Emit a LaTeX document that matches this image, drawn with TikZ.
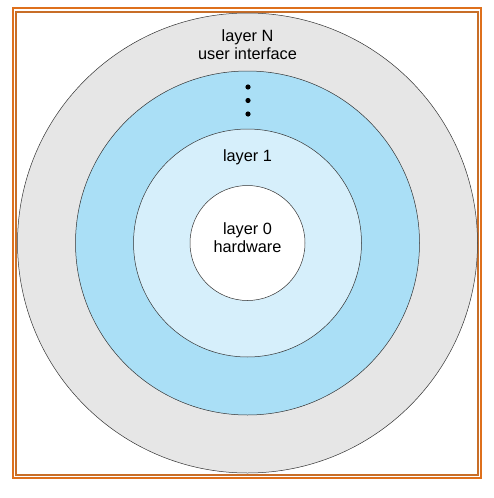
\documentclass[tikz,border=0pt]{standalone}
\usepackage{fontspec}
\setmainfont{Liberation Sans}
\definecolor{framec}{RGB}{222,112,28}
\definecolor{framed}{RGB}{200,110,40}
\definecolor{grayring}{RGB}{230,230,230}
\definecolor{bluering}{RGB}{170,223,246}
\definecolor{lightring}{RGB}{214,239,251}
\begin{document}
\begin{tikzpicture}[x=1pt,y=-1pt,
  ring/.style={circle,draw=black!80,line width=0.5pt,inner sep=0pt},
  lbl/.style={font=\fontsize{16.3}{18}\selectfont,align=center,inner sep=0pt},
  framestyle/.style={line width=1.6pt}]
\useasboundingbox (0,0) rectangle (493,498);
\fill[white] (0,0) rectangle (493,498);
\draw[framestyle,draw=framec] (13,8) rectangle (481,478);
\draw[framestyle,draw=framed] (16,12) rectangle (478,475);
\node[ring,fill=grayring,minimum size=460pt] (outer) at (247.5,243) {};
\node[ring,fill=bluering,minimum size=344pt] (blue) at (247.5,243) {};
\node[ring,fill=lightring,minimum size=228pt] (light) at (247.5,243) {};
\node[ring,fill=white,minimum size=115pt] (core) at (247.5,243) {};
\node[lbl] (ln) at (247.5,44.5) {layer N\\user interface};
\node[lbl] (l1) at (247.5,157.5) {layer 1};
\node[lbl] (l0) at (247.5,238) {layer 0\\hardware};
\fill (248,87) circle (2.6pt) coordinate (d1);
\fill (248,100.5) circle (2.6pt) coordinate (d2);
\fill (248,114) circle (2.6pt) coordinate (d3);
\end{tikzpicture}
\end{document}
